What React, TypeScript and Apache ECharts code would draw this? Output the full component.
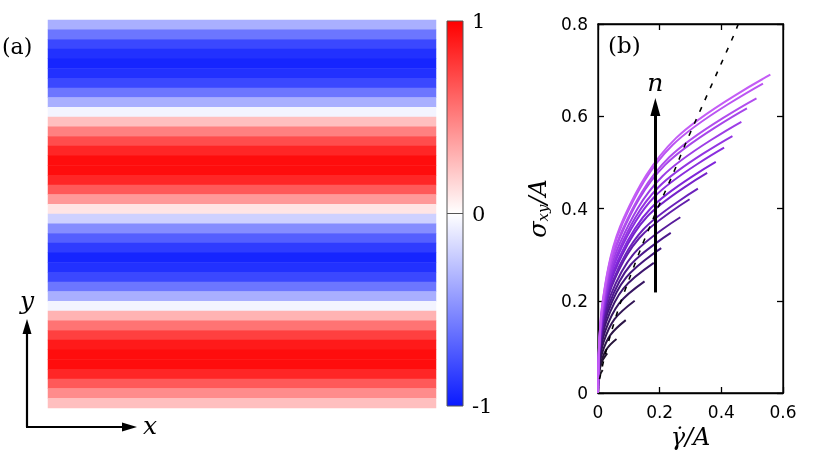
import React, { useEffect, useRef } from "react";
import * as echarts from "echarts";

// Panel (a): colour of the particle bands, top row to bottom row (velocity / max)
const bandValues = [
  -0.35, -0.6, -0.8, -0.9, -0.95, -0.9, -0.8, -0.6, -0.35, -0.05,
  0.25, 0.5, 0.7, 0.85, 0.95, 0.95, 0.85, 0.65, 0.4, 0.1,
  -0.2, -0.5, -0.7, -0.85, -0.95, -0.9, -0.8, -0.6, -0.35, -0.05,
  0.3, 0.55, 0.75, 0.9, 0.95, 0.95, 0.85, 0.65, 0.45, 0.25,
];
const colorbarTicks = [-1, 0, 1];

// Panel (b): flow curves, one per n (dark = small n, light = large n)
const curves: number[][][] = [
  [[0, 0], [0.0005, 0.015], [0.0023, 0.028], [0.0068, 0.04], [0.015, 0.05]],
  [[0, 0], [0.0009, 0.026], [0.0045, 0.047], [0.0135, 0.069], [0.03, 0.086]],
  [[0, 0], [0.0018, 0.035], [0.009, 0.064], [0.027, 0.094], [0.06, 0.117]],
  [[0, 0], [0.0027, 0.047], [0.0135, 0.087], [0.0405, 0.126], [0.09, 0.158]],
  [[0, 0], [0.0036, 0.06], [0.018, 0.11], [0.0536, 0.16], [0.119, 0.2]],
  [[0, 0], [0.0045, 0.073], [0.0227, 0.133], [0.068, 0.194], [0.151, 0.242]],
  [[0, 0], [0.0054, 0.085], [0.0272, 0.155], [0.0815, 0.226], [0.181, 0.282]],
  [[0, 0], [0.0062, 0.094], [0.0308, 0.173], [0.0923, 0.251], [0.205, 0.314]],
  [[0, 0], [0.0071, 0.104], [0.0354, 0.191], [0.106, 0.278], [0.236, 0.347]],
  [[0, 0], [0.008, 0.114], [0.04, 0.21], [0.12, 0.305], [0.267, 0.381]],
  [[0, 0], [0.0089, 0.126], [0.0446, 0.231], [0.134, 0.336], [0.297, 0.42]],
  [[0, 0], [0.0097, 0.133], [0.0486, 0.244], [0.146, 0.354], [0.324, 0.443]],
  [[0, 0], [0.0106, 0.143], [0.0531, 0.262], [0.159, 0.382], [0.354, 0.477]],
  [[0, 0], [0.0115, 0.15], [0.0573, 0.276], [0.172, 0.401], [0.382, 0.501]],
  [[0, 0], [0.0123, 0.16], [0.0614, 0.293], [0.184, 0.426], [0.409, 0.532]],
  [[0, 0], [0.0131, 0.167], [0.0654, 0.306], [0.196, 0.446], [0.436, 0.557]],
  [[0, 0], [0.014, 0.176], [0.0698, 0.323], [0.209, 0.47], [0.465, 0.588]],
  [[0, 0], [0.0145, 0.185], [0.0725, 0.339], [0.217, 0.494], [0.483, 0.617]],
  [[0, 0], [0.0154, 0.192], [0.0771, 0.351], [0.231, 0.511], [0.514, 0.639]],
  [[0, 0], [0.016, 0.201], [0.0803, 0.369], [0.241, 0.537], [0.535, 0.671]],
  [[0, 0], [0.0168, 0.207], [0.0839, 0.38], [0.252, 0.552], [0.559, 0.69]],
];
const dashedLine = [
  [0.005, 0.03], [0.02, 0.075], [0.04, 0.125], [0.07, 0.19], [0.1, 0.245],
  [0.14, 0.315], [0.19, 0.395], [0.24, 0.47], [0.29, 0.55], [0.34, 0.625],
  [0.39, 0.7], [0.44, 0.775], [0.455, 0.8],
];
const arrowStart = [0.186, 0.218];
const arrowEnd = [0.186, 0.62];

const SERIF = "DejaVu Serif";
const SANS = "DejaVu Sans";

const colorStops = [
  [0.0, [28, 22, 32]],
  [0.35, [66, 22, 124]],
  [0.65, [128, 38, 218]],
  [1.0, [196, 92, 246]],
] as [number, number[]][];
function curveColor(t: number) {
  for (let i = 0; i < colorStops.length - 1; i++) {
    const [t0, c0] = colorStops[i];
    const [t1, c1] = colorStops[i + 1];
    if (t <= t1) {
      const f = (t - t0) / (t1 - t0);
      const c = c0.map((v, k) => Math.round(v + (c1[k] - v) * f));
      return `rgb(${c[0]},${c[1]},${c[2]})`;
    }
  }
  const c = colorStops[colorStops.length - 1][1];
  return `rgb(${c[0]},${c[1]},${c[2]})`;
}

export default function App() {
  const ref = useRef<HTMLDivElement>(null);
  useEffect(() => {
    if (!ref.current) return;
    const chart = echarts.init(ref.current, undefined, { renderer: "svg" });

    const axisLine = () => ({ show: true, onZero: false, lineStyle: { color: "#000", width: 1.3 } });
    const tickIn = () => ({ show: true, inside: true, length: 6, lineStyle: { color: "#000", width: 1.3 } });

    const lineSeries = curves.map((pts, i) => ({
      type: "line",
      xAxisIndex: 1,
      yAxisIndex: 1,
      data: pts,
      smooth: 0.35,
      showSymbol: false,
      symbol: "none",
      lineStyle: { color: curveColor(i / (curves.length - 1)), width: 2 },
      z: 3,
    }));

    chart.setOption({
      animation: false,
      grid: [
        { left: 48, top: 20, width: 388, height: 388 },
        { left: 598, top: 24, width: 185, height: 369, show: true, borderColor: "#000", borderWidth: 1.3, backgroundColor: "transparent" },
        { left: 447, top: 21, width: 16, height: 385 },
      ],
      xAxis: [
        { gridIndex: 0, type: "category", data: ["x"], show: false },
        {
          gridIndex: 1, type: "value", min: 0, max: 0.6, interval: 0.2, position: "bottom",
          name: "γ\u0307/A", nameLocation: "middle", nameGap: 28,
          nameTextStyle: { fontFamily: SERIF, fontStyle: "italic", fontSize: 24, color: "#000" },
          axisLine: axisLine(),
          axisTick: tickIn(),
          axisLabel: { fontFamily: SANS, fontSize: 17, color: "#000", margin: 10 },
          splitLine: { show: false },
        },
        {
          gridIndex: 1, type: "value", min: 0, max: 0.6, interval: 0.2, position: "top",
          axisLine: axisLine(),
          axisTick: tickIn(),
          axisLabel: { show: false },
          splitLine: { show: false },
        },
        { gridIndex: 2, type: "value", min: 0, max: 1, show: false },
      ],
      yAxis: [
        {
          gridIndex: 0, type: "category", inverse: true, show: false,
          data: bandValues.map((_, i) => String(i)),
        },
        {
          gridIndex: 1, type: "value", min: 0, max: 0.8, interval: 0.2, position: "left",
          name: "{i|σ}{s|xy}{i|/A}", nameLocation: "middle", nameGap: 48, nameRotate: 90,
          nameTextStyle: {
            color: "#000",
            rich: {
              i: { fontFamily: SERIF, fontStyle: "italic", fontSize: 24, color: "#000" },
              s: { fontFamily: SERIF, fontStyle: "italic", fontSize: 15, color: "#000", verticalAlign: "bottom", padding: [10, 0, 0, 0] },
            },
          },
          axisLine: axisLine(),
          axisTick: tickIn(),
          axisLabel: { fontFamily: SANS, fontSize: 17, color: "#000", margin: 10 },
          splitLine: { show: false },
        },
        {
          gridIndex: 1, type: "value", min: 0, max: 0.8, interval: 0.2, position: "right",
          axisLine: axisLine(),
          axisTick: tickIn(),
          axisLabel: { show: false },
          splitLine: { show: false },
        },
        {
          gridIndex: 2, type: "value", min: colorbarTicks[0], max: colorbarTicks[colorbarTicks.length - 1],
          interval: 1, position: "right",
          axisLine: { show: false }, axisTick: { show: false }, splitLine: { show: false },
          axisLabel: { fontFamily: SERIF, fontSize: 21, color: "#000", margin: 9, align: "left" },
        },
      ],
      visualMap: {
        show: false, seriesIndex: 0, min: -1, max: 1, dimension: 2,
        inRange: { color: ["#0a1aff", "#ffffff", "#ff0000"] },
      },
      series: [
        {
          type: "heatmap", xAxisIndex: 0, yAxisIndex: 0,
          data: bandValues.map((v, i) => [0, i, v]),
          itemStyle: { borderWidth: 0 },
        },
        ...lineSeries,
        {
          type: "line", xAxisIndex: 1, yAxisIndex: 1, data: dashedLine,
          showSymbol: false, symbol: "none", smooth: 0.3,
          lineStyle: { color: "#000", width: 1.6, type: [5, 8] },
          z: 5,
          markLine: {
            silent: true, symbol: ["none", "triangle"], symbolSize: [10, 18],
            lineStyle: { color: "#000", width: 3, type: "solid" },
            label: {
              show: true, position: "end", formatter: "n", distance: 12,
              fontFamily: SERIF, fontStyle: "italic", fontSize: 25, color: "#000",
            },
            data: [[{ coord: arrowStart }, { coord: arrowEnd }]],
            z: 6,
          },
        },
      ],
      graphic: [
        {
          type: "rect", shape: { x: 447, y: 21, width: 16, height: 385 }, z: 1,
          style: {
            fill: new echarts.graphic.LinearGradient(0, 0, 0, 1, [
              { offset: 0, color: "#ff0000" },
              { offset: 0.5, color: "#ffffff" },
              { offset: 1, color: "#0a1aff" },
            ]),
            stroke: "#555", lineWidth: 1,
          },
        },
        { type: "line", shape: { x1: 447, y1: 213.5, x2: 463, y2: 213.5 }, style: { stroke: "#555", lineWidth: 1 }, z: 2 },
        { type: "text", left: 2, top: 35, style: { text: "(a)", fontFamily: SERIF, fontSize: 22, fill: "#000" } },
        { type: "text", left: 608, top: 33, style: { text: "(b)", fontFamily: SERIF, fontSize: 23, fill: "#000" } },
        { type: "line", shape: { x1: 27, y1: 427, x2: 27, y2: 332 }, style: { stroke: "#000", lineWidth: 2.2 } },
        { type: "polygon", shape: { points: [[27, 319], [22.5, 334], [31.5, 334]] }, style: { fill: "#000" } },
        { type: "line", shape: { x1: 26, y1: 427, x2: 123, y2: 427 }, style: { stroke: "#000", lineWidth: 2.2 } },
        { type: "polygon", shape: { points: [[137, 427], [122, 422.5], [122, 431.5]] }, style: { fill: "#000" } },
        { type: "text", x: 27, y: 300, style: { text: "y", fontFamily: SERIF, fontStyle: "italic", fontSize: 25, fill: "#000", align: "center", verticalAlign: "middle" } },
        { type: "text", x: 150, y: 425, style: { text: "x", fontFamily: SERIF, fontStyle: "italic", fontSize: 25, fill: "#000", align: "center", verticalAlign: "middle" } },
      ],
    });
    return () => chart.dispose();
  }, []);
  return <div ref={ref} style={{ position: "fixed", left: 0, top: 0, width: 830, height: 460 }} />;
}
